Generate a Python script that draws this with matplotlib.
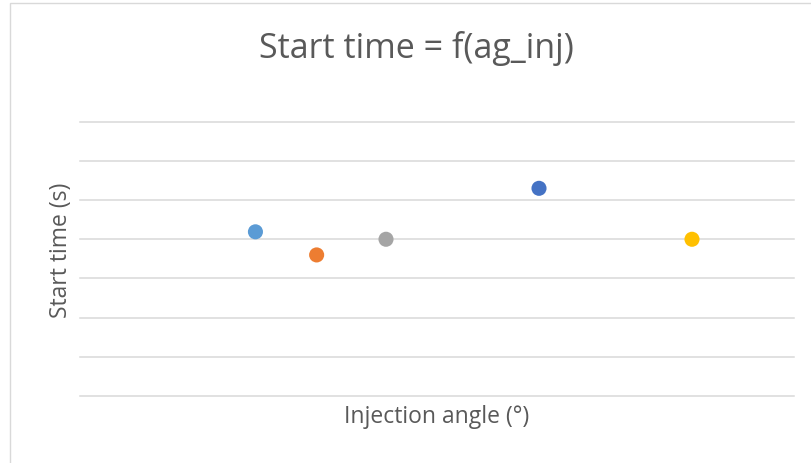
import matplotlib
matplotlib.use("Agg")
import matplotlib.pyplot as plt
from matplotlib.patches import Rectangle

# Injection angle vs start time, one point per case
angles = [8.6, 11.6, 15.0, 22.5, 30.0]
start_times = [4.19, 3.60, 4.00, 5.30, 4.00]
colors = ["#5B9BD5", "#ED7D31", "#A5A5A5", "#4472C4", "#FFC000"]

title = "Start time = f(ag_inj)"
xlabel = "Injection angle (°)"
ylabel = "Start time (s)"
grid_values = list(range(0, 8))

W, H = 811, 463
fig = plt.figure(figsize=(W / 100, H / 100), dpi=100)
fig.patch.set_facecolor("white")

# chart-area border
fig.patches.append(Rectangle((10 / W, -0.1), 1.2, (H - 3) / H + 0.1, transform=fig.transFigure,
                             fill=False, edgecolor="#D9D9D9", linewidth=1.0))

ax = fig.add_axes([80 / W, (H - 396) / H, (794 - 80) / W, (396 - 121.7) / H])
ax.set_xlim(0, 35)
ax.set_ylim(0, 7)
for v in grid_values:
    ax.axhline(v, color="#D9D9D9", linewidth=1.1, clip_on=False, zorder=1)

ax.scatter(angles, start_times, c=colors, s=118, edgecolors="none", zorder=3, clip_on=False)

for s in ax.spines.values():
    s.set_visible(False)
ax.set_xticks([])
ax.set_yticks([])

txt = "#595959"
fig.text(416.5 / W, 1 - 49 / H, title, ha="center", va="center", fontsize=24.5,
         color=txt, family="Open Sans")
fig.text(436.5 / W, 1 - 417 / H, xlabel, ha="center", va="center", fontsize=16.5,
         color=txt, family="Open Sans")
fig.text(61 / W, 1 - 250 / H, ylabel, ha="center", va="center", fontsize=16.5,
         color=txt, family="Open Sans", rotation=90)

fig.savefig("out.png", dpi=100)
